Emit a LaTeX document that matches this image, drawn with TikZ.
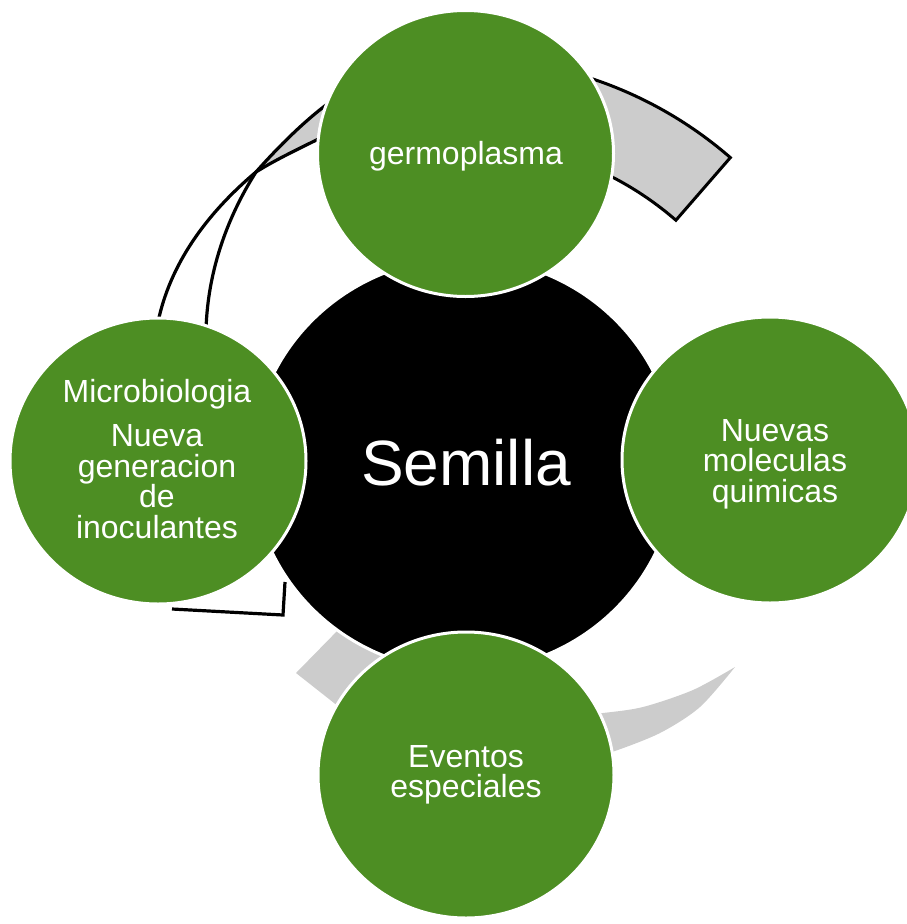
\documentclass[tikz,border=0pt]{standalone}
\usepackage{fontspec}
\setmainfont{Liberation Sans}
\usetikzlibrary{calc,shapes.geometric}
\definecolor{leaf}{RGB}{77,142,35}
\definecolor{band}{RGB}{204,204,204}
\begin{document}
\begin{tikzpicture}[x=1pt,y=-1pt,
  hub/.style={ellipse,fill=black,draw=white,line width=3pt,minimum width=424pt,minimum height=413pt,inner sep=0pt},
  petal/.style={ellipse,fill=leaf,draw=white,line width=3pt,minimum width=296pt,minimum height=286pt,inner sep=0pt},
  petaltext/.style={text=white,align=center,inner sep=0pt,font=\fontsize{32}{30.5}\selectfont},
  outline/.style={draw=black,line width=3pt,line join=miter},
  thinline/.style={draw=black,line width=3.2pt}]
\useasboundingbox (0,0) rectangle (907,924);
\coordinate (C) at (464,464);
% top-right band
\filldraw[fill=band,outline] ($(C)+(-102:406)$) arc[start angle=-102,end angle=-49,radius=406]
  -- ($(C)+(-49:323)$) arc[start angle=-49,end angle=-102,radius=323] -- cycle;
% top-left twisted band
\fill[band] (340,95) .. controls (310,115) and (280,145) .. (256,172)
  .. controls (275,160) and (300,148) .. (335,131) -- cycle;
\draw[thinline] (340,95) .. controls (310,115) and (280,145) .. (256,172)
  .. controls (235,205) and (208,260) .. (206,330);
\draw[thinline] (335,131) .. controls (300,148) and (275,160) .. (256,172)
  .. controls (205,215) and (170,265) .. (158,322);
% bottom-left lines
\draw[thinline] (172,609) -- (283,615) -- (285,582);
% bottom-left gray piece
\fill[band] (296,673) -- (343,625) -- (400,660) -- (348,714) -- cycle;
% bottom-right crescent
\fill[band] plot[smooth] coordinates {(570,716) (603,713) (643,707) (693,690) (735,667)}
  -- plot[smooth] coordinates {(735,667) (700,707) (660,733) (612,752) (580,760)} -- cycle;
% circles
\node[hub] (seed) at (464,464.5) {};
\node[petal] (germ) at (465.5,153.5) {};
\node[petal] (chem) at (770,460) {};
\node[petal] (event) at (466,775) {};
\node[petal] (micro) at (158,461) {};
% texts
\node[petaltext,anchor=base] (germtext) at (466,164) {germoplasma};
\node[petaltext] (chemtext) at (775,464) {Nuevas\\moleculas\\quimicas};
\node[petaltext] (eventtext) at (466,775) {Eventos\\especiales};
\node[petaltext] (microtext) at (157,459) {Microbiologia\\[14pt]Nueva\\generacion\\de\\inoculantes};
\node[text=white,inner sep=0pt,font=\fontsize{64}{70}\selectfont,anchor=base] (seedtext) at (466,485) {Semilla};
\end{tikzpicture}
\end{document}
